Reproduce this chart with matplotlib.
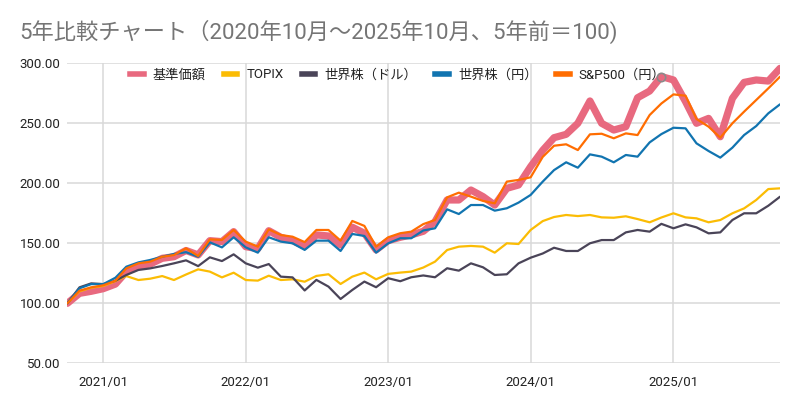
import matplotlib
matplotlib.use("Agg")
import matplotlib.pyplot as plt
import matplotlib.dates as mdates
from matplotlib.lines import Line2D
from matplotlib.ticker import FuncFormatter, MultipleLocator
import pandas as pd

plt.rcParams['font.family'] = ['Roboto', 'Noto Sans CJK JP', 'DejaVu Sans']

dates = pd.date_range('2020-10-01', '2025-10-01', freq='MS')

kijun = [100, 108.3, 110, 112.2, 116, 126.3, 131, 132.7, 137.5, 138.8,
         144, 140.3, 152.2, 151.4, 159.7, 147.2, 145.5, 160.5, 155, 152.2,
         147.5, 157, 156.1, 148.6, 163.4, 158.4, 144.5, 152.2, 155, 157,
         160, 168, 186.1, 186.1, 194.4, 188.9, 181.9, 195.8, 198.6, 213.9,
         227.5, 238, 240.8, 250, 268.6, 250, 244.4, 247.2, 271.3, 276.9,
         289, 286.1, 268, 250, 254.1, 238.8, 270.8, 284.1, 286.1, 285.2, 295.8]

topix = [100, 110, 113, 114.5, 118.5, 122.7, 119.4, 120.5, 122.7, 119.4,
         124, 128.3, 126.4, 121.6, 125.5, 119.4, 118.9, 123, 119.4, 120,
         118, 122.8, 124.2, 116.1, 122.2, 125.6, 120, 124.5, 125.6, 126.4,
         129.8, 134.7, 144.4, 147.2, 147.8, 147.2, 142.2, 150, 149.4, 161.1,
         168.5, 171.9, 173.6, 172.7, 173.6, 171.6, 171.3, 172.5, 170.2, 167.5,
         171.5, 175, 171.6, 170.8, 167.5, 169.4, 175, 179.1, 186.1, 195.2, 195.8]

world_usd = [100, 113.3, 116.6, 116, 118.8, 123.6, 127.8, 129.1, 131.1, 133.3,
             135.8, 131, 138.3, 135.2, 140.8, 133.3, 129.7, 132.7, 122.2, 121.6,
             110.7, 119.5, 113.9, 103.6, 111.1, 118.1, 113.4, 120.9, 118.4, 121.7,
             123.2, 121.7, 129.2, 127.2, 133.3, 130, 123.6, 124.2, 133.3, 138,
             141.5, 146.3, 143.6, 143.6, 150, 152.7, 152.7, 159.1, 161.1, 159.7,
             166.2, 162.5, 165.8, 163.3, 158.3, 159.1, 169.4, 175, 175, 181.3, 188.8]

world_jpy = [100, 112.5, 116, 116, 121.3, 130.5, 134.1, 136.1, 138.8, 141.1,
             142.6, 138.8, 150.8, 146.6, 155, 146.6, 142.2, 155, 151.4, 150,
             144.5, 152.2, 152.2, 143.6, 157.8, 156.1, 142.2, 150, 154.2, 154.2,
             160.7, 162.5, 178.3, 174.4, 181.9, 181.9, 177.2, 179.2, 183.9, 190.3,
             201.4, 211, 217.5, 213, 224.1, 222.2, 217.5, 223.6, 222.2, 234.1,
             241, 246.3, 245.8, 233.3, 226.9, 221.4, 229.7, 240.2, 247.7, 258.3, 265.8]

sp500_jpy = [100, 110.5, 113.3, 115, 118.8, 129.1, 133.3, 134.7, 138.8, 140.2,
             145.8, 139.4, 153.3, 152.8, 161.1, 151.4, 147.2, 161.6, 156.9, 155.5,
             151, 161.1, 161.1, 152.2, 168.6, 164.5, 147.2, 155, 158.4, 159.7,
             166, 169.4, 188.3, 192.2, 188.9, 185.3, 183.3, 201.4, 202.8, 205,
             222, 231.3, 232.5, 227.7, 240.8, 241.3, 237.5, 241.6, 240.2, 256.9,
             266.5, 274.1, 273, 253.6, 247.2, 238, 250, 259.7, 269.4, 279.1, 288.8]

labels = ['基準価額', 'TOPIX', '世界株（ドル）', '世界株（円）', 'S&P500（円）']
colors = ['#E8697F', '#FBBC04', '#4A4458', '#1174B0', '#FF6D01']
series = [kijun, topix, world_usd, world_jpy, sp500_jpy]
widths = [5.2, 1.6, 1.6, 1.6, 1.6]
highlight_index = 50

title = '5年比較チャート（2020年10月～2025年10月、5年前＝100)'

fig = plt.figure(figsize=(8, 4.05), dpi=100)
ax = fig.add_axes([67.4 / 800, 1 - 363.3 / 405, (780 - 67.4) / 800, 300 / 405])

for s, c, w in zip(series, colors, widths):
    ax.plot(dates, s, color=c, lw=w, solid_joinstyle='round', solid_capstyle='round')

ax.plot([dates[highlight_index]], [kijun[highlight_index]], marker='o', ms=6,
        mfc='none', mec='#8A8A8A', mew=1.2, zorder=5)

ax.set_xlim(dates[0], dates[-1])
ax.set_ylim(50, 300)
ax.yaxis.set_major_locator(MultipleLocator(50))
ax.yaxis.set_major_formatter(FuncFormatter(lambda v, p: f'{v:.2f}'))
ax.xaxis.set_major_locator(mdates.MonthLocator(bymonth=1))
ax.xaxis.set_major_formatter(mdates.DateFormatter('%Y/%m'))
ax.grid(True, color='#D9D9D9', lw=1.1)
ax.set_axisbelow(True)
for sp in ax.spines.values():
    sp.set_visible(False)
ax.tick_params(length=0, labelsize=9.5, labelcolor='#222222')
ax.tick_params(axis='y', pad=5)
ax.tick_params(axis='x', pad=9)

handles = [Line2D([0], [0], color=c, lw=4) for c in colors]
fig.legend(handles, labels, loc='center', bbox_to_anchor=(0.497, 1 - 75 / 405), ncol=5,
           frameon=False, fontsize=9.5, handlelength=1.05, handletextpad=0.7,
           columnspacing=1.35, labelcolor='#222222')

fig.text(19 / 800, 1 - 32 / 405, title, fontsize=16, color='#757575', ha='left', va='center')

fig.savefig('out.png', dpi=100)
